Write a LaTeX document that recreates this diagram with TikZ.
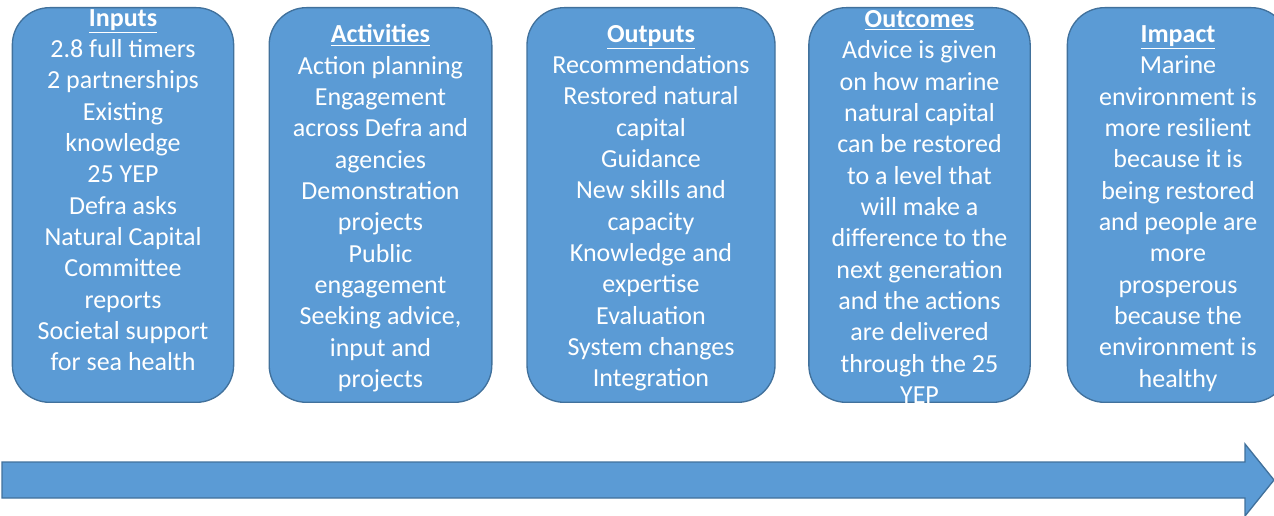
\documentclass[tikz,border=0pt]{standalone}
\usepackage{fontspec}
\setmainfont{Carlito}
\usepackage{xcolor}
\usepackage{tikz}
\usetikzlibrary{positioning}

\definecolor{boxfill}{HTML}{5B9BD5}
\definecolor{boxline}{HTML}{41719C}

\begin{document}
\begin{tikzpicture}[x=0.75pt, y=-0.75pt,
stage/.style={draw=boxline, fill=boxfill, line width=1pt, rounded corners=28pt,
  minimum height=296pt, inner sep=0pt},
stagetext/.style={text=white, align=center, inner sep=0pt,
  font=\fontsize{19.5}{23.5}\selectfont}]

\def\ttl#1{\underline{\textbf{#1}}}

\useasboundingbox (0,0) rectangle (1274,516);

% boxes
\node[stage, minimum width=166pt] (inputs) at (123,205) {};
\node[stage, minimum width=167pt] (activities) at (380.5,205) {};
\node[stage, minimum width=186pt] (outputs) at (651,205) {};
\node[stage, minimum width=166pt] (outcomes) at (919.5,205) {};
\node[stage, minimum width=166pt] (impact) at (1178,205) {};

% texts
\node[stagetext] (inputstext) at ([yshift=-0.5pt]inputs.center) {\ttl{Inputs}\\2.8 full timers\\2 partnerships\\Existing\\knowledge\\25 YEP\\Defra asks\\Natural Capital\\Committee\\reports\\Societal support\\for sea health\\~};
\node[stagetext] (activitiestext) at ([yshift=-2.5pt]activities.center) {\ttl{Activities}\\Action planning\\Engagement\\across Defra and\\agencies\\Demonstration\\projects\\Public\\engagement\\Seeking advice,\\input and\\projects};
\node[stagetext] (outputstext) at ([yshift=-2.5pt]outputs.center) {\ttl{Outputs}\\Recommendations\\Restored natural\\capital\\Guidance\\New skills and\\capacity\\Knowledge and\\expertise\\Evaluation\\System changes\\Integration};
\node[stagetext] (outcomestext) at ([yshift=-1.5pt]outcomes.center) {\ttl{Outcomes}\\Advice is given\\on how marine\\natural capital\\can be restored\\to a level that\\will make a\\difference to the\\next generation\\and the actions\\are delivered\\through the 25\\YEP};
\node[stagetext] (impacttext) at ([yshift=-2.5pt]impact.center) {\ttl{Impact}\\Marine\\environment is\\more resilient\\because it is\\being restored\\and people are\\more\\prosperous\\because the\\environment is\\healthy};

% time arrow
\draw[draw=boxline, fill=boxfill, line width=1pt]
  (2,462) -- (1245,462) -- (1245,444) -- (1274,480) -- (1245,516) -- (1245,498) -- (2,498) -- cycle;

\end{tikzpicture}
\end{document}
